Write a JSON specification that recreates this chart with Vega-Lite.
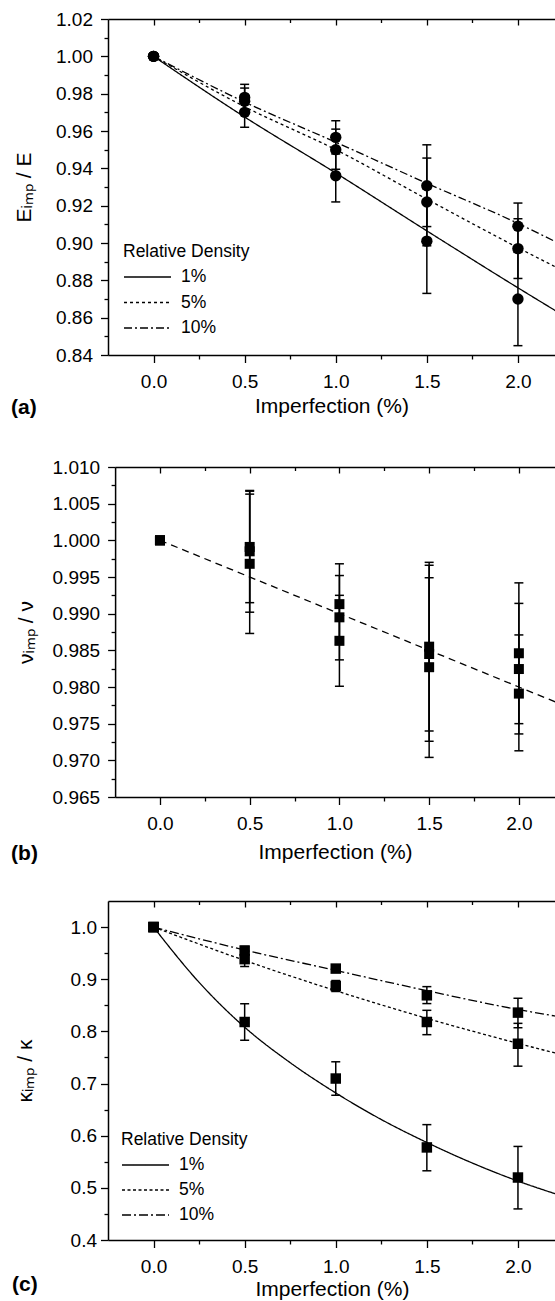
{
  "$schema": "https://vega.github.io/schema/vega-lite/v6.json",
  "padding": {"left": 11, "top": 10, "right": 0, "bottom": 0},
  "background": "white",
  "config": {
    "font": "Liberation Sans",
    "view": {"stroke": null},
    "axis": {"domainColor": "black", "tickColor": "black", "domainWidth": 1.5, "tickWidth": 1.3, "labelColor": "black", "titleColor": "black", "labelFont": "Liberation Sans", "titleFont": "Liberation Sans", "labelFontSize": 19, "titleFontSize": 21, "titleFontWeight": "normal", "grid": false, "labelOverlap": false, "labelFlush": false}
  },
  "datasets": {
    "fitA": [
      {"x": 0, "density": "1%", "y": 1.0}, {"x": 0.5, "density": "1%", "y": 0.9675}, {"x": 1.0, "density": "1%", "y": 0.9375}, {"x": 1.5, "density": "1%", "y": 0.9065}, {"x": 2.0, "density": "1%", "y": 0.876}, {"x": 2.21, "density": "1%", "y": 0.8635},
      {"x": 0, "density": "5%", "y": 1.0}, {"x": 0.5, "density": "5%", "y": 0.973}, {"x": 1.0, "density": "5%", "y": 0.950}, {"x": 1.5, "density": "5%", "y": 0.9235}, {"x": 2.0, "density": "5%", "y": 0.8975}, {"x": 2.21, "density": "5%", "y": 0.887},
      {"x": 0, "density": "10%", "y": 1.0}, {"x": 0.5, "density": "10%", "y": 0.9755}, {"x": 1.0, "density": "10%", "y": 0.954}, {"x": 1.5, "density": "10%", "y": 0.932}, {"x": 2.0, "density": "10%", "y": 0.9105}, {"x": 2.21, "density": "10%", "y": 0.9005}
    ],
    "ptsA": [
      {"x": 0, "density": "1%", "y": 1.0, "lo": 1.0, "hi": 1.0},
      {"x": 0, "density": "5%", "y": 1.0, "lo": 1.0, "hi": 1.0},
      {"x": 0, "density": "10%", "y": 1.0, "lo": 1.0, "hi": 1.0},
      {"x": 0.5, "density": "1%", "y": 0.970, "lo": 0.962, "hi": 0.978},
      {"x": 0.5, "density": "5%", "y": 0.976, "lo": 0.969, "hi": 0.983},
      {"x": 0.5, "density": "10%", "y": 0.978, "lo": 0.971, "hi": 0.985},
      {"x": 1.0, "density": "1%", "y": 0.936, "lo": 0.922, "hi": 0.950},
      {"x": 1.0, "density": "5%", "y": 0.950, "lo": 0.9395, "hi": 0.961},
      {"x": 1.0, "density": "10%", "y": 0.9566, "lo": 0.9477, "hi": 0.9655},
      {"x": 1.5, "density": "1%", "y": 0.901, "lo": 0.873, "hi": 0.929},
      {"x": 1.5, "density": "5%", "y": 0.922, "lo": 0.8985, "hi": 0.9455},
      {"x": 1.5, "density": "10%", "y": 0.9307, "lo": 0.9088, "hi": 0.9526},
      {"x": 2.0, "density": "1%", "y": 0.870, "lo": 0.845, "hi": 0.895},
      {"x": 2.0, "density": "5%", "y": 0.897, "lo": 0.881, "hi": 0.913},
      {"x": 2.0, "density": "10%", "y": 0.909, "lo": 0.8966, "hi": 0.9214}
    ],
    "fitB": [
      {"x": 0, "y": 1.0}, {"x": 1.0, "y": 0.990}, {"x": 2.0, "y": 0.980}, {"x": 2.21, "y": 0.9779}
    ],
    "ptsB": [
      {"x": 0, "density": "1%", "y": 1.0, "lo": 1.0, "hi": 1.0},
      {"x": 0, "density": "5%", "y": 1.0, "lo": 1.0, "hi": 1.0},
      {"x": 0, "density": "10%", "y": 1.0, "lo": 1.0, "hi": 1.0},
      {"x": 0.5, "density": "10%", "y": 0.9991, "lo": 0.9915, "hi": 1.0067},
      {"x": 0.5, "density": "5%", "y": 0.9985, "lo": 0.9902, "hi": 1.0068},
      {"x": 0.5, "density": "1%", "y": 0.9968, "lo": 0.9873, "hi": 1.0063},
      {"x": 1.0, "density": "10%", "y": 0.9913, "lo": 0.9858, "hi": 0.9968},
      {"x": 1.0, "density": "5%", "y": 0.9895, "lo": 0.9837, "hi": 0.9952},
      {"x": 1.0, "density": "1%", "y": 0.9863, "lo": 0.9801, "hi": 0.9925},
      {"x": 1.5, "density": "10%", "y": 0.9855, "lo": 0.9740, "hi": 0.9970},
      {"x": 1.5, "density": "5%", "y": 0.9845, "lo": 0.9726, "hi": 0.9966},
      {"x": 1.5, "density": "1%", "y": 0.9827, "lo": 0.9704, "hi": 0.9949},
      {"x": 2.0, "density": "10%", "y": 0.9846, "lo": 0.9750, "hi": 0.9942},
      {"x": 2.0, "density": "5%", "y": 0.98245, "lo": 0.9736, "hi": 0.9914},
      {"x": 2.0, "density": "1%", "y": 0.9791, "lo": 0.9713, "hi": 0.9871}
    ],
    "fitC": [
      {"x": 0, "density": "1%", "y": 1.0}, {"x": 0.25, "density": "1%", "y": 0.894}, {"x": 0.5, "density": "1%", "y": 0.808}, {"x": 0.75, "density": "1%", "y": 0.740}, {"x": 1.0, "density": "1%", "y": 0.682}, {"x": 1.25, "density": "1%", "y": 0.631}, {"x": 1.5, "density": "1%", "y": 0.587}, {"x": 1.75, "density": "1%", "y": 0.5475}, {"x": 2.0, "density": "1%", "y": 0.513}, {"x": 2.21, "density": "1%", "y": 0.488},
      {"x": 0, "density": "5%", "y": 1.0}, {"x": 0.5, "density": "5%", "y": 0.936}, {"x": 1.0, "density": "5%", "y": 0.878}, {"x": 1.5, "density": "5%", "y": 0.825}, {"x": 2.0, "density": "5%", "y": 0.777}, {"x": 2.21, "density": "5%", "y": 0.758},
      {"x": 0, "density": "10%", "y": 1.0}, {"x": 0.5, "density": "10%", "y": 0.956}, {"x": 1.0, "density": "10%", "y": 0.917}, {"x": 1.5, "density": "10%", "y": 0.878}, {"x": 2.0, "density": "10%", "y": 0.842}, {"x": 2.21, "density": "10%", "y": 0.829}
    ],
    "ptsC": [
      {"x": 0, "density": "1%", "y": 1.0, "lo": 1.0, "hi": 1.0},
      {"x": 0, "density": "5%", "y": 1.0, "lo": 1.0, "hi": 1.0},
      {"x": 0, "density": "10%", "y": 1.0, "lo": 1.0, "hi": 1.0},
      {"x": 0.5, "density": "1%", "y": 0.818, "lo": 0.783, "hi": 0.853},
      {"x": 0.5, "density": "5%", "y": 0.9385, "lo": 0.9244, "hi": 0.9526},
      {"x": 0.5, "density": "10%", "y": 0.955, "lo": 0.947, "hi": 0.963},
      {"x": 1.0, "density": "1%", "y": 0.7096, "lo": 0.6775, "hi": 0.7417},
      {"x": 1.0, "density": "5%", "y": 0.887, "lo": 0.8765, "hi": 0.8975},
      {"x": 1.0, "density": "10%", "y": 0.9204, "lo": 0.915, "hi": 0.926},
      {"x": 1.5, "density": "1%", "y": 0.5775, "lo": 0.5327, "hi": 0.6212},
      {"x": 1.5, "density": "5%", "y": 0.818, "lo": 0.7937, "hi": 0.8404},
      {"x": 1.5, "density": "10%", "y": 0.8692, "lo": 0.8533, "hi": 0.8858},
      {"x": 2.0, "density": "1%", "y": 0.5198, "lo": 0.4596, "hi": 0.5794},
      {"x": 2.0, "density": "5%", "y": 0.7763, "lo": 0.7333, "hi": 0.8154},
      {"x": 2.0, "density": "10%", "y": 0.836, "lo": 0.807, "hi": 0.8635}
    ]
  },
  "columns": 1,
  "spacing": 40,
  "resolve": {"scale": {"strokeDash": "independent"}, "legend": {"strokeDash": "independent"}},
  "concat": [
    {
      "width": 447,
      "height": 336,
      "title": {"text": "(a)", "orient": "bottom", "anchor": "start", "frame": "bounds", "fontSize": 21, "fontWeight": "bold", "font": "Liberation Sans", "color": "black", "offset": -20, "dx": -2},
      "resolve": {"axis": {"x": "independent", "y": "independent"}},
      "layer": [
        {
          "data": {"name": "fitA"},
          "mark": {"type": "line", "color": "black", "strokeWidth": 1.3, "clip": true, "interpolate": "monotone"},
          "encoding": {
            "x": {"field": "x", "type": "quantitative", "scale": {"domain": [-0.25, 2.2034], "nice": false, "zero": false},
              "axis": {"orient": "bottom", "values": [0, 0.25, 0.5, 0.75, 1, 1.25, 1.5, 1.75, 2], "format": ".1f", "labelExpr": "round(datum.value*4)%2==0 ? datum.label : ''", "tickSize": {"condition": {"test": "round(datum.value*4)%2==0", "value": 7.5}, "value": 4}, "labelPadding": 10, "title": "Imperfection (%)", "titlePadding": 4}},
            "y": {"field": "y", "type": "quantitative", "scale": {"domain": [0.84, 1.02], "nice": false, "zero": false},
              "axis": {"orient": "left", "values": [0.84, 0.85, 0.86, 0.87, 0.88, 0.89, 0.9, 0.91, 0.92, 0.93, 0.94, 0.95, 0.96, 0.97, 0.98, 0.99, 1.0, 1.01, 1.02], "format": ".2f", "labelExpr": "round(datum.value*100)%2==0 ? datum.label : ''", "tickSize": {"condition": {"test": "round(datum.value*100)%2==0", "value": 7.5}, "value": 4}, "labelPadding": 8, "title": "Eᵢₘₚ / E", "titleX": -74}},
            "strokeDash": {"field": "density", "type": "nominal", "scale": {"domain": ["1%", "5%", "10%"], "range": [[1, 0], [3, 3], [8, 3, 2, 3]]},
              "legend": {"title": "Relative Density", "orient": "none", "legendX": 15, "legendY": 224, "direction": "vertical", "padding": 0, "titleFont": "Liberation Sans", "titleFontSize": 17.5, "titleFontWeight": "normal", "titleColor": "black", "titlePadding": 4, "labelFont": "Liberation Sans", "labelFontSize": 17.5, "labelColor": "black", "labelOffset": 21, "rowPadding": 4.5, "symbolType": "M-2,0H2", "symbolSize": 552, "symbolOffset": 12, "symbolStrokeWidth": 1.3, "symbolStrokeColor": "black", "symbolFillColor": "transparent", "labelExpr": "length(datum.label) < 3 ? '\u00a0' + datum.label : datum.label"}}
          }
        },
        {
          "data": {"name": "ptsA"},
          "mark": {"type": "rule", "color": "black", "strokeWidth": 1.5},
          "encoding": {
            "x": {"field": "x", "type": "quantitative", "scale": {"domain": [-0.25, 2.2034], "nice": false, "zero": false},
              "axis": {"orient": "top", "values": [0, 0.25, 0.5, 0.75, 1, 1.25, 1.5, 1.75, 2], "labels": false, "title": null, "tickSize": {"condition": {"test": "round(datum.value*4)%2==0", "value": -6}, "value": -3.5}}},
            "y": {"field": "lo", "type": "quantitative", "scale": {"domain": [0.84, 1.02], "nice": false, "zero": false}, "axis": null},
            "y2": {"field": "hi"}
          }
        },
        {
          "data": {"name": "ptsA"},
          "mark": {"type": "tick", "orient": "horizontal", "color": "black", "size": 9, "thickness": 1.5, "opacity": 1},
          "encoding": {
            "x": {"field": "x", "type": "quantitative", "scale": {"domain": [-0.25, 2.2034], "nice": false, "zero": false}, "axis": null},
            "y": {"field": "lo", "type": "quantitative", "scale": {"domain": [0.84, 1.02], "nice": false, "zero": false}, "axis": null}
          }
        },
        {
          "data": {"name": "ptsA"},
          "mark": {"type": "tick", "orient": "horizontal", "color": "black", "size": 9, "thickness": 1.5, "opacity": 1},
          "encoding": {
            "x": {"field": "x", "type": "quantitative", "scale": {"domain": [-0.25, 2.2034], "nice": false, "zero": false}, "axis": null},
            "y": {"field": "hi", "type": "quantitative", "scale": {"domain": [0.84, 1.02], "nice": false, "zero": false}, "axis": null}
          }
        },
        {
          "data": {"name": "ptsA"},
          "mark": {"type": "circle", "color": "black", "size": 130, "opacity": 1},
          "encoding": {
            "x": {"field": "x", "type": "quantitative", "scale": {"domain": [-0.25, 2.2034], "nice": false, "zero": false}, "axis": null},
            "y": {"field": "y", "type": "quantitative", "scale": {"domain": [0.84, 1.02], "nice": false, "zero": false}, "axis": null}
          }
        }
      ]
    },
    {
      "columns": 1,
      "spacing": 36,
      "resolve": {"scale": {"strokeDash": "independent"}, "legend": {"strokeDash": "independent"}},
      "concat": [
        {
          "width": 447,
          "height": 330,
          "title": {"text": "(b)", "orient": "bottom", "anchor": "start", "frame": "bounds", "fontSize": 21, "fontWeight": "bold", "font": "Liberation Sans", "color": "black", "offset": -20, "dx": -4},
          "resolve": {"axis": {"x": "independent", "y": "independent"}},
          "layer": [
            {
              "data": {"name": "fitB"},
              "mark": {"type": "line", "color": "black", "strokeWidth": 1.3, "clip": true, "strokeDash": [7, 5]},
              "encoding": {
                "x": {"field": "x", "type": "quantitative", "scale": {"domain": [-0.25, 2.2013], "range": [7.1, 447], "nice": false, "zero": false},
                  "axis": {"orient": "bottom", "values": [0, 0.25, 0.5, 0.75, 1, 1.25, 1.5, 1.75, 2], "format": ".1f", "labelExpr": "round(datum.value*4)%2==0 ? datum.label : ''", "tickSize": {"condition": {"test": "round(datum.value*4)%2==0", "value": 7.5}, "value": 4}, "labelPadding": 10, "title": "Imperfection (%)", "titlePadding": 8}},
                "y": {"field": "y", "type": "quantitative", "scale": {"domain": [0.965, 1.01], "nice": false, "zero": false},
                  "axis": {"orient": "left", "offset": -7.1, "values": [0.965, 0.9675, 0.97, 0.9725, 0.975, 0.9775, 0.98, 0.9825, 0.985, 0.9875, 0.99, 0.9925, 0.995, 0.9975, 1.0, 1.0025, 1.005, 1.0075, 1.01], "format": ".3f", "labelExpr": "round(datum.value*400)%2==0 ? datum.label : ''", "tickSize": {"condition": {"test": "round(datum.value*400)%2==0", "value": 7.5}, "value": 4}, "labelPadding": 8, "title": "νᵢₘₚ / ν", "titleX": -79}}
              }
            },
            {
              "data": {"name": "ptsB"},
              "mark": {"type": "rule", "color": "black", "strokeWidth": 1.5},
              "encoding": {
                "x": {"field": "x", "type": "quantitative", "scale": {"domain": [-0.25, 2.2013], "range": [7.1, 447], "nice": false, "zero": false},
                  "axis": {"orient": "top", "values": [0, 0.25, 0.5, 0.75, 1, 1.25, 1.5, 1.75, 2], "labels": false, "title": null, "tickSize": {"condition": {"test": "round(datum.value*4)%2==0", "value": -6}, "value": -3.5}}},
                "y": {"field": "lo", "type": "quantitative", "scale": {"domain": [0.965, 1.01], "nice": false, "zero": false}, "axis": null},
                "y2": {"field": "hi"}
              }
            },
            {
              "data": {"name": "ptsB"},
              "mark": {"type": "tick", "orient": "horizontal", "color": "black", "size": 9, "thickness": 1.5, "opacity": 1},
              "encoding": {
                "x": {"field": "x", "type": "quantitative", "scale": {"domain": [-0.25, 2.2013], "range": [7.1, 447], "nice": false, "zero": false}, "axis": null},
                "y": {"field": "lo", "type": "quantitative", "scale": {"domain": [0.965, 1.01], "nice": false, "zero": false}, "axis": null}
              }
            },
            {
              "data": {"name": "ptsB"},
              "mark": {"type": "tick", "orient": "horizontal", "color": "black", "size": 9, "thickness": 1.5, "opacity": 1},
              "encoding": {
                "x": {"field": "x", "type": "quantitative", "scale": {"domain": [-0.25, 2.2013], "range": [7.1, 447], "nice": false, "zero": false}, "axis": null},
                "y": {"field": "hi", "type": "quantitative", "scale": {"domain": [0.965, 1.01], "nice": false, "zero": false}, "axis": null}
              }
            },
            {
              "data": {"name": "ptsB"},
              "mark": {"type": "square", "color": "black", "size": 100, "opacity": 1},
              "encoding": {
                "x": {"field": "x", "type": "quantitative", "scale": {"domain": [-0.25, 2.2013], "range": [7.1, 447], "nice": false, "zero": false}, "axis": null},
                "y": {"field": "y", "type": "quantitative", "scale": {"domain": [0.965, 1.01], "nice": false, "zero": false}, "axis": null}
              }
            }
          ]
        },
        {
          "width": 448,
          "height": 339,
          "title": {"text": "(c)", "orient": "bottom", "anchor": "start", "frame": "bounds", "fontSize": 21, "fontWeight": "bold", "font": "Liberation Sans", "color": "black", "offset": -26, "dx": -2},
          "resolve": {"axis": {"x": "independent", "y": "independent"}},
          "layer": [
            {
              "data": {"name": "fitC"},
              "mark": {"type": "line", "color": "black", "strokeWidth": 1.3, "clip": true, "interpolate": "monotone"},
              "encoding": {
                "x": {"field": "x", "type": "quantitative", "scale": {"domain": [-0.25, 2.2088], "nice": false, "zero": false},
                  "axis": {"orient": "bottom", "values": [0, 0.25, 0.5, 0.75, 1, 1.25, 1.5, 1.75, 2], "format": ".1f", "labelExpr": "round(datum.value*4)%2==0 ? datum.label : ''", "tickSize": {"condition": {"test": "round(datum.value*4)%2==0", "value": 7.5}, "value": 4}, "labelPadding": 10, "title": "Imperfection (%)", "titlePadding": 2}},
                "y": {"field": "y", "type": "quantitative", "scale": {"domain": [0.4, 1.05], "nice": false, "zero": false},
                  "axis": {"orient": "left", "values": [0.4, 0.45, 0.5, 0.55, 0.6, 0.65, 0.7, 0.75, 0.8, 0.85, 0.9, 0.95, 1.0], "format": ".1f", "labelExpr": "round(datum.value*20)%2==0 ? datum.label : ''", "tickSize": {"condition": {"test": "round(datum.value*20)%2==0", "value": 7.5}, "value": 4}, "labelPadding": 4, "title": "κᵢₘₚ / κ", "titleX": -73}},
                "strokeDash": {"field": "density", "type": "nominal", "scale": {"domain": ["1%", "5%", "10%"], "range": [[1, 0], [3, 2.5], [9, 3, 2, 3]]},
                  "legend": {"title": "Relative Density", "orient": "none", "legendX": 13, "legendY": 230, "direction": "vertical", "padding": 0, "titleFont": "Liberation Sans", "titleFontSize": 17.5, "titleFontWeight": "normal", "titleColor": "black", "titlePadding": 4, "labelFont": "Liberation Sans", "labelFontSize": 17.5, "labelColor": "black", "labelOffset": 21, "rowPadding": 4, "symbolType": "M-2,0H2", "symbolSize": 552, "symbolOffset": 12, "symbolStrokeWidth": 1.3, "symbolStrokeColor": "black", "symbolFillColor": "transparent", "labelExpr": "length(datum.label) < 3 ? '\u00a0' + datum.label : datum.label"}}
              }
            },
            {
              "data": {"name": "ptsC"},
              "mark": {"type": "rule", "color": "black", "strokeWidth": 1.5},
              "encoding": {
                "x": {"field": "x", "type": "quantitative", "scale": {"domain": [-0.25, 2.2088], "nice": false, "zero": false},
                  "axis": {"orient": "top", "values": [0, 0.25, 0.5, 0.75, 1, 1.25, 1.5, 1.75, 2], "labels": false, "title": null, "tickSize": {"condition": {"test": "round(datum.value*4)%2==0", "value": -6}, "value": -3.5}}},
                "y": {"field": "lo", "type": "quantitative", "scale": {"domain": [0.4, 1.05], "nice": false, "zero": false}, "axis": null},
                "y2": {"field": "hi"}
              }
            },
            {
              "data": {"name": "ptsC"},
              "mark": {"type": "tick", "orient": "horizontal", "color": "black", "size": 9, "thickness": 1.5, "opacity": 1},
              "encoding": {
                "x": {"field": "x", "type": "quantitative", "scale": {"domain": [-0.25, 2.2088], "nice": false, "zero": false}, "axis": null},
                "y": {"field": "lo", "type": "quantitative", "scale": {"domain": [0.4, 1.05], "nice": false, "zero": false}, "axis": null}
              }
            },
            {
              "data": {"name": "ptsC"},
              "mark": {"type": "tick", "orient": "horizontal", "color": "black", "size": 9, "thickness": 1.5, "opacity": 1},
              "encoding": {
                "x": {"field": "x", "type": "quantitative", "scale": {"domain": [-0.25, 2.2088], "nice": false, "zero": false}, "axis": null},
                "y": {"field": "hi", "type": "quantitative", "scale": {"domain": [0.4, 1.05], "nice": false, "zero": false}, "axis": null}
              }
            },
            {
              "data": {"name": "ptsC"},
              "mark": {"type": "square", "color": "black", "size": 110, "opacity": 1},
              "encoding": {
                "x": {"field": "x", "type": "quantitative", "scale": {"domain": [-0.25, 2.2088], "nice": false, "zero": false}, "axis": null},
                "y": {"field": "y", "type": "quantitative", "scale": {"domain": [0.4, 1.05], "nice": false, "zero": false}, "axis": null}
              }
            }
          ]
        }
      ]
    }
  ]
}
